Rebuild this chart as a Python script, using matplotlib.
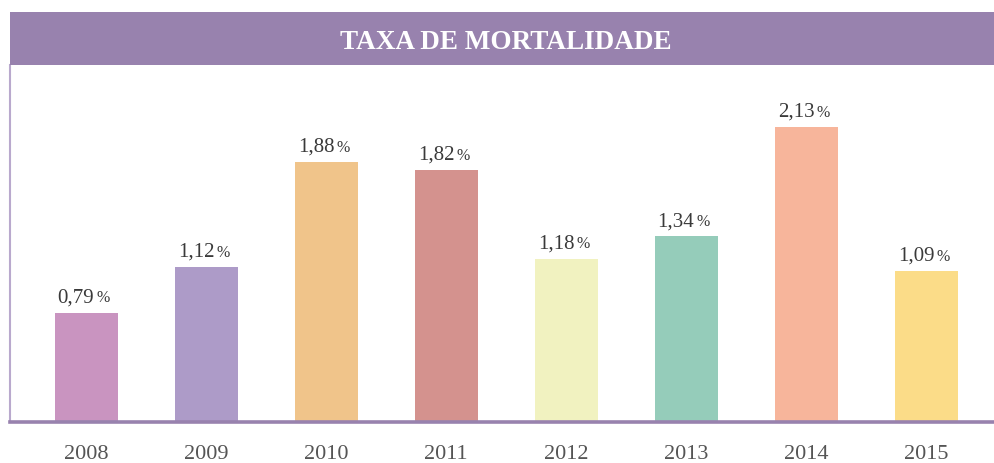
import matplotlib
matplotlib.use("Agg")
import matplotlib.pyplot as plt
from matplotlib.patches import Rectangle

years = ['2008', '2009', '2010', '2011', '2012', '2013', '2014', '2015']
taxa = [0.79, 1.12, 1.88, 1.82, 1.18, 1.34, 2.13, 1.09]
rotulos = ['0,79', '1,12', '1,88', '1,82', '1,18', '1,34', '2,13', '1,09']
cores = ['#c994c0', '#ad9bc8', '#f0c48a', '#d4928e',
         '#f1f2c0', '#95ccba', '#f7b59b', '#fbdc88']

roxo = '#9882ae'
plt.rcParams['font.family'] = ['Liberation Serif', 'DejaVu Serif']

W, H = 994, 464
fig = plt.figure(figsize=(W / 100, H / 100), dpi=100)

# faixa do titulo
fig.patches.append(Rectangle((10 / W, 1 - 66 / H), 984 / W, 53 / H,
                             transform=fig.transFigure, facecolor=roxo,
                             edgecolor='none'))
fig.text(506 / W, 1 - 49 / H, 'TAXA DE MORTALIDADE', color='white',
         fontsize=19.5, fontweight='bold', ha='center', va='baseline')

ax = fig.add_axes([10 / W, 1 - 423 / H, 984 / W, 357 / H])
x = range(len(years))
ax.bar(x, taxa, width=63 / 120, color=cores)
# numero + simbolo de % menor
for i in x:
    ax.annotate(rotulos[i], (i, taxa[i]), xytext=(6, 8),
                textcoords='offset points', ha='right', va='baseline',
                fontsize=15, color='#3a3a3a')
    ax.annotate('%', (i, taxa[i]), xytext=(7.5, 8),
                textcoords='offset points', ha='left', va='baseline',
                fontsize=11.5, color='#3a3a3a')

ax.set_xlim(-76 / 120, 908 / 120)
ax.set_ylim(0, 357 / 138.5)
ax.set_xticks(list(x))
ax.set_xticklabels(years, fontsize=16, color='#555555')
ax.tick_params(axis='x', length=0, pad=16)
ax.set_yticks([])
for s in ['top', 'right']:
    ax.spines[s].set_visible(False)
ax.spines['bottom'].set_color(roxo)
ax.spines['bottom'].set_linewidth(2.6)
ax.spines['left'].set_color('#b9a9cd')
ax.spines['left'].set_linewidth(1.5)

fig.savefig('out.png', dpi=100)
